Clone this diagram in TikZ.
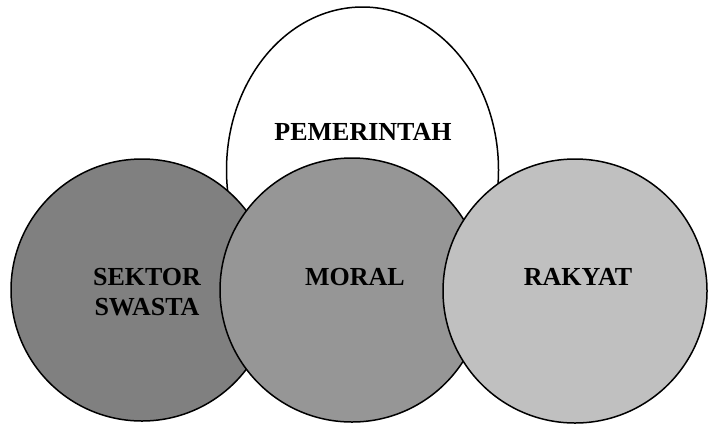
\documentclass[tikz,border=0pt]{standalone}
\usepackage{fontspec}
\setmainfont{Liberation Serif}
\usetikzlibrary{shapes.geometric}
\definecolor{gA}{HTML}{808080}
\definecolor{gB}{HTML}{969696}
\definecolor{gC}{HTML}{C0C0C0}
\begin{document}
\begin{tikzpicture}[x=1pt,y=-1pt,
  ring/.style={draw=black,line width=1.5pt,circle,inner sep=0pt,minimum size=264pt},
  lbl/.style={font=\fontsize{26}{30}\selectfont\bfseries,align=center,inner sep=0pt,text=black}]
  \useasboundingbox (0,0) rectangle (708,424);
  % top oval behind the three circles
  \node[draw=black,line width=1.5pt,fill=white,ellipse,inner sep=0pt,
        minimum width=272pt,minimum height=326pt] (gov) at (362.5,170) {};
  \node[ring,fill=gA,minimum size=262pt] (swasta) at (142,290) {};
  \node[ring,fill=gB,minimum size=264pt] (moral) at (352,290) {};
  \node[ring,fill=gC,minimum size=264pt] (rakyat) at (575,291) {};
  \node[lbl] (tgov) at (363,132) {PEMERINTAH};
  \node[lbl] (tswasta) at (147,292) {SEKTOR\\SWASTA};
  \node[lbl] (tmoral) at (355,277) {MORAL};
  \node[lbl] (trakyat) at (578,277) {RAKYAT};
\end{tikzpicture}
\end{document}
